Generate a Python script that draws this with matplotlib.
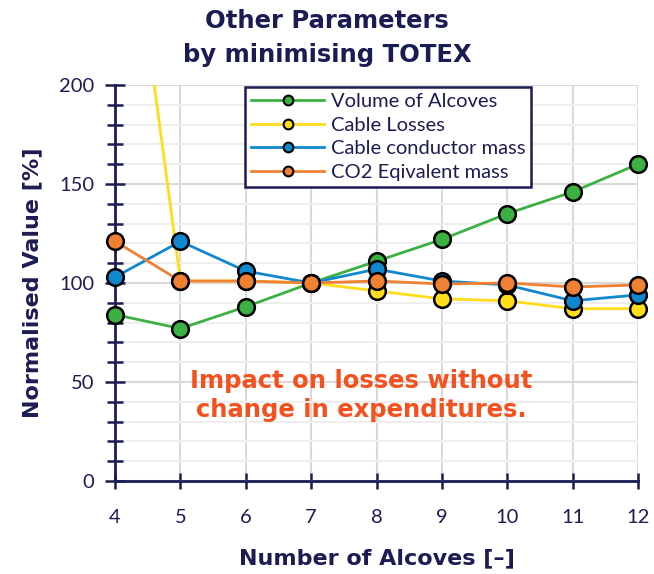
import numpy as np
import matplotlib.pyplot as plt
import matplotlib.ticker as mticker

NAVY = "#1c1c54"
BOLD_FONT = "DejaVu Sans"

# ── Data ───────────────────────────────────────────────────────────────────────
alcoves       = [4, 5, 6, 7, 8, 9, 10, 11, 12]
vol_alcoves   = [84, 77, 88, 100, 111, 122, 135, 146, 160]
cable_losses  = [348, 101, 101, 100, 96, 92, 91, 87, 87]
conductor     = [103, 121, 106, 100, 107, 101, 99, 91, 94]
co2_mass      = [121, 101, 101, 100, 101, 99.5, 100, 98, 99]

SERIES = [
    ("Volume of Alcoves",     vol_alcoves,  "#3cb043"),
    ("Cable Losses",          cable_losses, "#ffdd1a"),
    ("Cable conductor mass",  conductor,    "#1088d0"),
    ("CO2 Eqivalent mass",    co2_mass,     "#f08132"),
]
YMAX = 200

# ── Plot ───────────────────────────────────────────────────────────────────────
fig = plt.figure(figsize=(6.54, 5.74), dpi=100)
ax = fig.add_axes([0.176, 0.162, 0.7995, 0.690])

for i, (label, vals, color) in enumerate(SERIES):
    z = 3 + i
    ax.plot(alcoves, vals, color=color, linewidth=2, zorder=z, clip_on=True)
    # markers outside the clip box so the edge ones stay whole; drop off-scale ones
    v = np.array(vals, dtype=float)
    v = np.where(v > YMAX, np.nan, v)
    ax.plot(alcoves, v, linestyle="none", marker="o", markersize=12,
            markerfacecolor=color, markeredgecolor="black", markeredgewidth=1.8,
            zorder=z + 0.5, clip_on=False)
    ax.plot([], [], color=color, linewidth=2, marker="o", markersize=7,
            markerfacecolor=color, markeredgecolor="black", markeredgewidth=1.5,
            label=label)

ax.set_xlim(4, 12)
ax.set_ylim(0, YMAX)
ax.xaxis.set_major_locator(mticker.MultipleLocator(1))
ax.yaxis.set_major_locator(mticker.MultipleLocator(50))
ax.yaxis.set_minor_locator(mticker.MultipleLocator(10))

ax.grid(True, which="major", axis="x", color="#d9d9d9", linewidth=1.5)
ax.grid(True, which="major", axis="y", color="#d9d9d9", linewidth=1.5)
ax.grid(True, which="minor", axis="y", color="#eeeeee", linewidth=1.5)
ax.set_axisbelow(True)

for side in ("top", "right"):
    ax.spines[side].set_visible(False)
for side in ("left", "bottom"):
    ax.spines[side].set_color(NAVY)
    ax.spines[side].set_linewidth(2)

ax.tick_params(axis="y", which="both", direction="inout", color=NAVY, width=1.8,
               labelcolor=NAVY, labelsize=14.5)
ax.tick_params(axis="y", which="major", length=14, pad=8)
ax.tick_params(axis="y", which="minor", length=12)
ax.tick_params(axis="x", which="major", direction="inout", length=12, width=1.8,
               color=NAVY, labelcolor=NAVY, labelsize=14.5, pad=14)
for lbl in ax.get_xticklabels() + ax.get_yticklabels():
    lbl.set_family("Lato")

ax.set_xlabel("Number of Alcoves [\u2013]", fontsize=16, weight="bold",
              color=NAVY, labelpad=16, family=BOLD_FONT)
ax.set_ylabel("Normalised Value [%]", fontsize=16, weight="bold",
              color=NAVY, labelpad=12, family=BOLD_FONT)
fig.suptitle("Other Parameters\nby minimising TOTEX", fontsize=17.5,
             weight="bold", color=NAVY, y=0.985, linespacing=1.55,
             family=BOLD_FONT)

ax.text(0.47, 0.215, "Impact on losses without\nchange in expenditures.",
        transform=ax.transAxes, ha="center", va="center", fontsize=17.5,
        weight="bold", color="#f4511e", linespacing=1.25, family=BOLD_FONT)

leg = ax.legend(loc="upper left", bbox_to_anchor=(0.249, 0.995), fancybox=False,
                framealpha=1, edgecolor=NAVY, handlelength=3.6,
                borderpad=0.3, labelspacing=0.32, handletextpad=0.35,
                borderaxespad=0, prop={"family": "Lato", "size": 14.5})
leg.get_frame().set_linewidth(1.8)
for t in leg.get_texts():
    t.set_color(NAVY)

fig.savefig("out.png", dpi=100)
